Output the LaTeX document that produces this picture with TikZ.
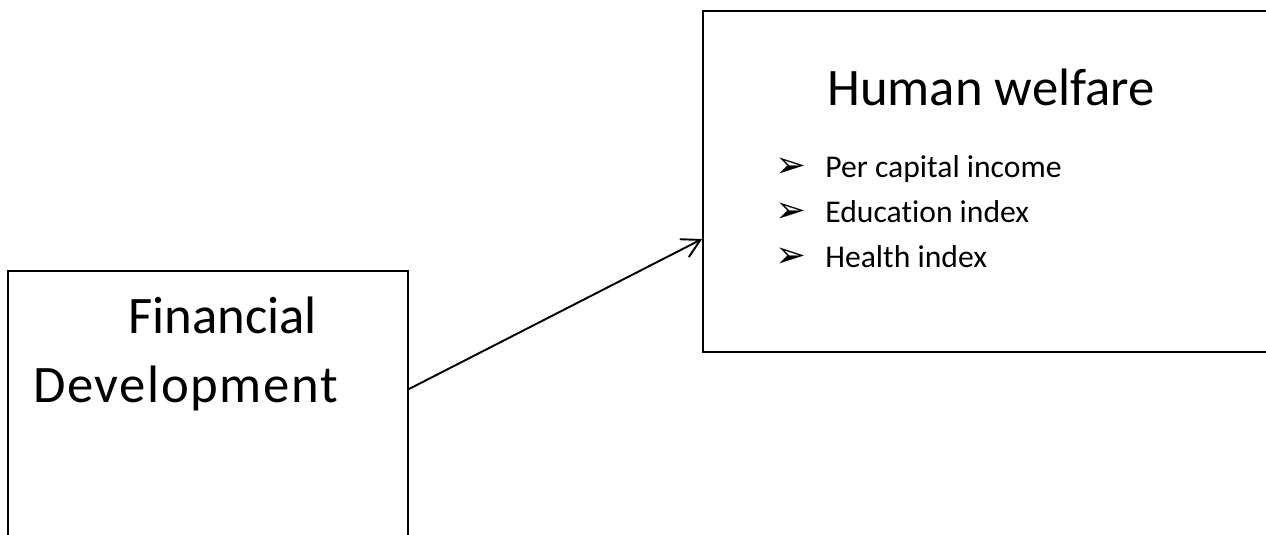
\documentclass[tikz,border=0pt]{standalone}
\usepackage{fontspec}
\setmainfont{Carlito}[Ligatures=NoCommon]
\newfontfamily\dingfont{DejaVu Sans}
\usetikzlibrary{arrows.meta}

\begin{document}
\begin{tikzpicture}[x=0.02cm, y=-0.02cm]
	\tikzstyle{box}=[rectangle, draw=black, line width=1.1pt, inner sep=0pt]
	\tikzstyle{title}=[anchor=base west, inner sep=0pt, font=\fontsize{30}{36}\selectfont]
	\tikzstyle{item}=[anchor=base west, inner sep=0pt, font=\fontsize{18}{22}\selectfont]
	\tikzstyle{bulletmark}=[anchor=base west, inner sep=0pt, font=\dingfont\fontsize{21}{24}\selectfont]
	\useasboundingbox (0,0) rectangle (1266,534);

	\node[box, minimum width=8cm, minimum height=6cm] (finance) at (208,421) {};
	\node[title] (fintitle) at (128,333) {Financial};
	\node[title] (devtitle) at (33,402) {\addfontfeature{LetterSpace=3}Development};

	\node[box, minimum width=11.74cm, minimum height=6.82cm] (welfare) at (996.5,181.5) {};
	\node[title] (hwtitle) at (827,105) {Human welfare};

	\node[bulletmark] (m1) at (775,177) {➢};
	\node[item] (income) at (825,177) {Per capital income};
	\node[bulletmark] (m2) at (775,222) {➢};
	\node[item] (education) at (825,222) {Education index};
	\node[bulletmark] (m3) at (775,267) {➢};
	\node[item] (health) at (825,267) {Health index};

	\draw[-{Straight Barb[length=0.36cm, width=0.4cm]}, line width=1.1pt]
		([yshift=-2.38cm]finance.north east) -- ([yshift=-4.58cm]welfare.north west);
\end{tikzpicture}
\end{document}
